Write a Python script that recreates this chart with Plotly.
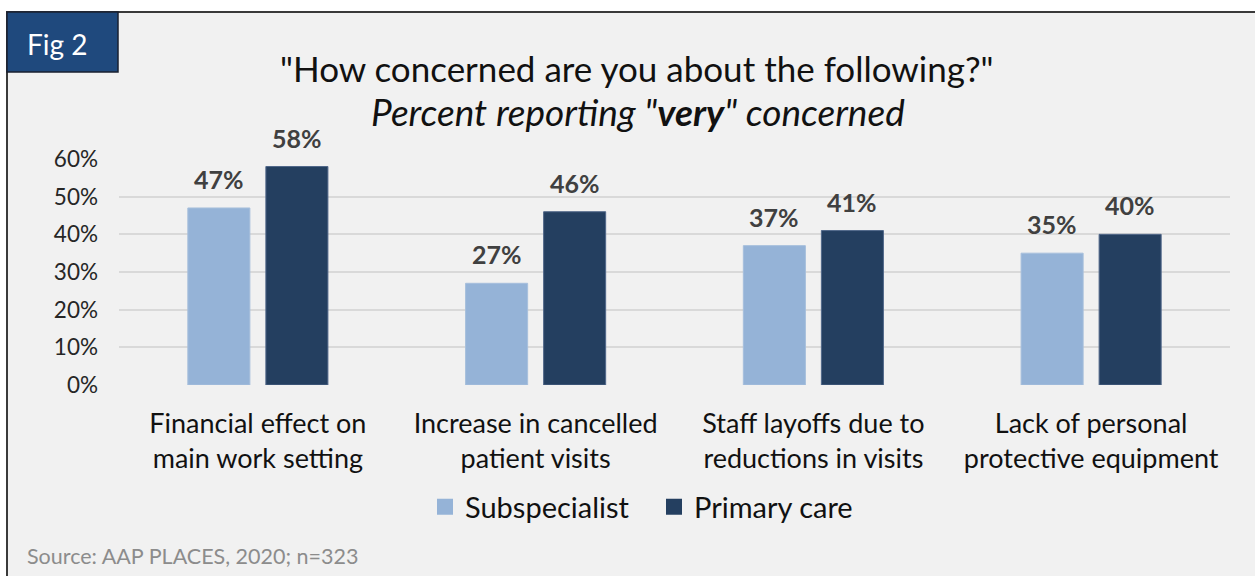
import plotly.graph_objects as go

categories = ["Financial effect on<br>main work setting",
              "Increase in cancelled<br>patient visits",
              "Staff layoffs due to<br>reductions in visits",
              "Lack of personal<br>protective equipment"]
subspecialist = [0.47, 0.27, 0.37, 0.35]
primary_care = [0.58, 0.46, 0.41, 0.40]
series_names = ["Subspecialist", "Primary care"]
y_ticks = [0, 0.1, 0.2, 0.3, 0.4, 0.5, 0.6]

W, H = 1255, 576
FONT = "Lato, 'Open Sans', sans-serif"
LIGHT = "#95b3d7"
DARK = "#243f60"

def px(x):
    return x / W

def py(y):
    return 1 - y / H

fig = go.Figure()
fig.add_trace(go.Bar(x=categories, y=subspecialist, name=series_names[0], showlegend=False,
                     marker=dict(color=LIGHT, line=dict(color="#a7bfdc", width=1))))
fig.add_trace(go.Bar(x=categories, y=primary_care, name=series_names[1], showlegend=False,
                     marker=dict(color=DARK, line=dict(color="#51688a", width=1))))
# legend entries (square swatches)
for name, col in zip(series_names, (LIGHT, DARK)):
    fig.add_trace(go.Scatter(x=[None], y=[None], mode="markers", name=name,
                             marker=dict(symbol="square", size=18, color=col)))

annotations = []
for vals, shift in ((subspecialist, -39), (primary_care, 39)):
    for c, v in zip(categories, vals):
        annotations.append(dict(x=c, y=v, xref="x", yref="y", xshift=shift, yshift=12,
                                text=f"<b>{round(v*100)}%</b>", showarrow=False,
                                yanchor="bottom", font=dict(family=FONT, size=25, color="#404040")))

annotations += [
    dict(x=px(57), y=py(44), xref="paper", yref="paper", xanchor="center", yanchor="middle",
         text="Fig 2", showarrow=False, font=dict(family=FONT, size=28, color="white")),
    dict(x=px(25), y=py(556), xref="paper", yref="paper", xanchor="left", yanchor="middle",
         text="Source: AAP PLACES, 2020; n=323", showarrow=False,
         font=dict(family=FONT, size=21.5, color="#8c8c8c")),
    dict(x=px(637), y=py(68), xref="paper", yref="paper", xanchor="center", yanchor="middle",
         text='"How concerned are you about the following?"', showarrow=False,
         font=dict(family=FONT, size=35, color="#111111")),
    dict(x=px(638), y=py(111), xref="paper", yref="paper", xanchor="center", yanchor="middle",
         text='<i>Percent reporting "<b>very</b>" concerned</i>', showarrow=False,
         font=dict(family=FONT, size=37, color="#111111")),
]

shapes = [
    dict(type="rect", xref="paper", yref="paper", x0=px(7), x1=px(1265), y0=py(590), y1=py(12),
         fillcolor="#f1f1f1", line=dict(color="#3a3a3a", width=2), layer="below"),
    dict(type="rect", xref="paper", yref="paper", x0=px(7), x1=px(118), y0=py(72), y1=py(12),
         fillcolor="#1f497d", line=dict(color="#1a2030", width=1.5), layer="below"),
]

fig.update_layout(
    width=W, height=H,
    margin=dict(l=0, r=0, t=0, b=0, autoexpand=False),
    paper_bgcolor="white", plot_bgcolor="rgba(0,0,0,0)",
    barmode="group", bargap=0.438, bargroupgap=0.205,
    font=dict(family=FONT, color="#1a1a1a"),
    xaxis=dict(domain=[px(119), px(1230)], showgrid=False, zeroline=False, showline=False,
               tickfont=dict(family=FONT, size=27, color="#111111"), ticks="", ticklabelstandoff=20,
               automargin=False),
    yaxis=dict(domain=[py(385), py(159)], range=[0, 0.6], tickvals=y_ticks, tickformat=".0%",
               showgrid=True, gridcolor="#d9d9d9", gridwidth=1.5, zeroline=False, showline=False,
               tickfont=dict(family=FONT, size=22.5, color="#262626"), ticks="", ticklabelstandoff=20,
               automargin=False),
    legend=dict(orientation="h", x=px(425), xanchor="left", y=py(507), yanchor="middle",
                font=dict(family=FONT, size=29, color="#111111"), bgcolor="rgba(0,0,0,0)",
                itemwidth=30, entrywidth=184, traceorder="normal"),
    annotations=annotations,
    shapes=shapes,
)

fig.write_html("out.html", config={"displayModeBar": False},
               post_script="document.body.style.margin='0';document.body.style.overflow='hidden';")
